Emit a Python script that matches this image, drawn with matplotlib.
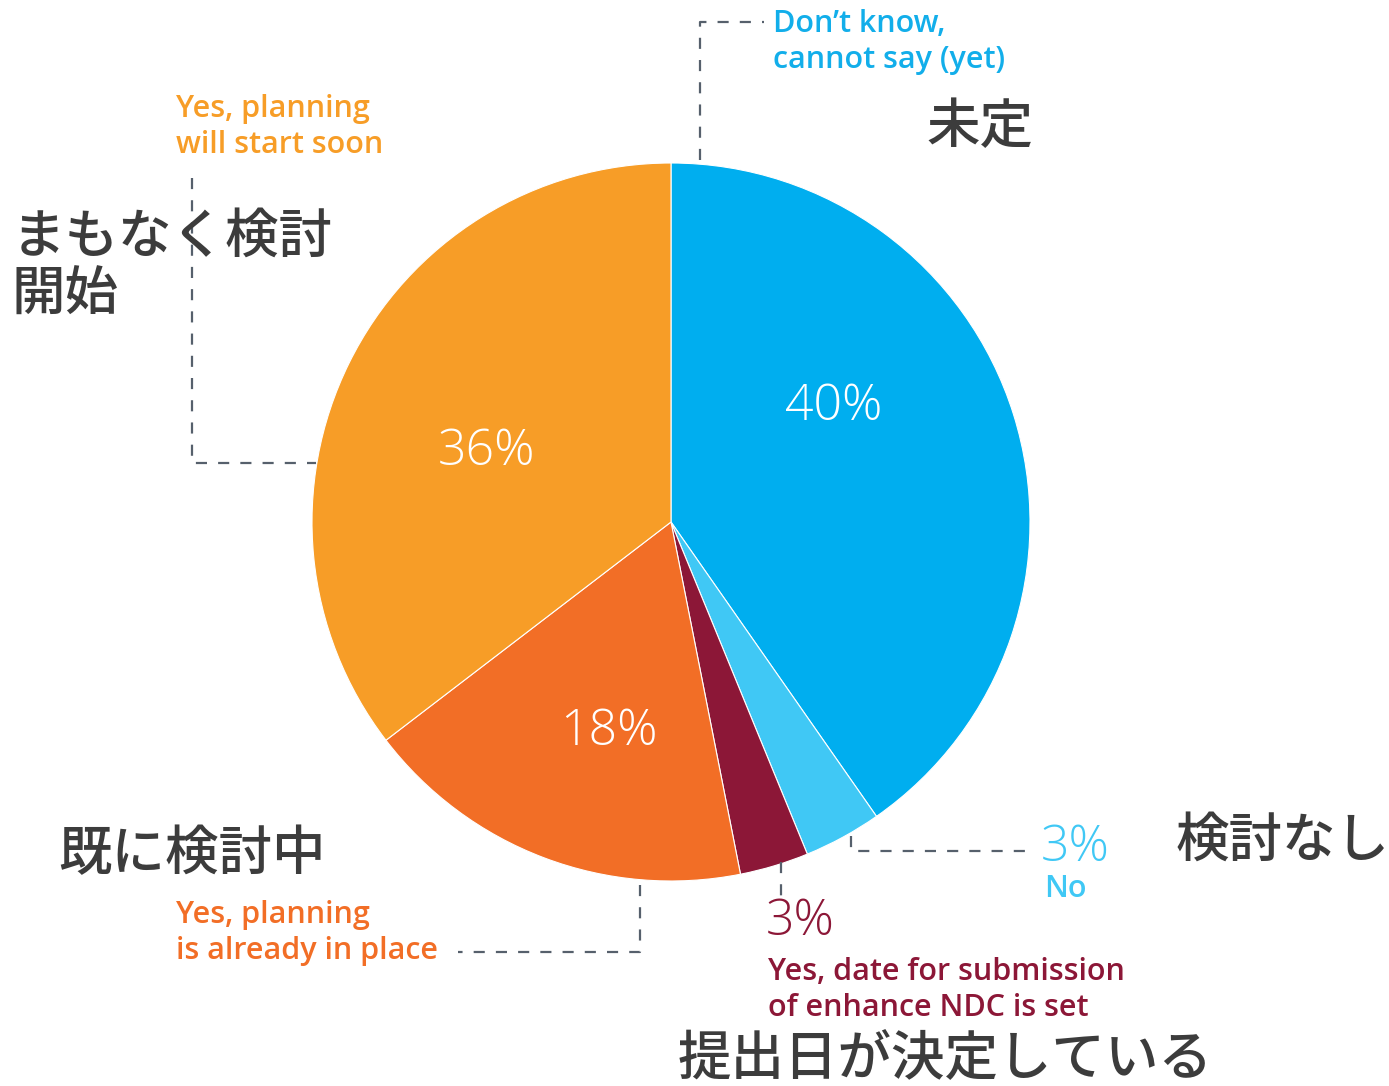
import matplotlib.pyplot as plt

# slices, clockwise from 12 o'clock
shares = [40.3, 3.5, 3.1, 17.7, 35.4]
colors = ['#00AEEF', '#40C8F5', '#8C1737', '#F26E26', '#F79D27']
inner_labels = ['40%', '', '', '18%', '36%']

en_labels = ["Don\u2019t know,\ncannot say (yet)", "No",
             "Yes, date for submission\nof enhance NDC is set",
             "Yes, planning\nis already in place",
             "Yes, planning\nwill start soon"]
ja_labels = ["未定", "検討なし", "提出日が決定している", "既に検討中", "まもなく検討\n開始"]
outer_pct = ['', '3%', '3%', '', '']

W, H = 1389, 1086
fig = plt.figure(figsize=(W / 100, H / 100), dpi=100)
ax = fig.add_axes([0, 0, 1, 1])

def Y(y):
    return H - y

cx, cy, r = 671, Y(522), 359
wedges, texts = ax.pie(shares, colors=colors, startangle=90, counterclock=False,
                       center=(cx, cy), radius=r, frame=True,
                       wedgeprops=dict(edgecolor='white', linewidth=0.8))
ax.set_xlim(0, W)
ax.set_ylim(0, H)
ax.set_aspect('equal')
ax.axis('off')

pct_font = dict(family=['Open Sans', 'DejaVu Sans'], weight='light', fontsize=36)
ax.text(834, Y(407), inner_labels[0], color='white', ha='center', va='center', **pct_font)
ax.text(609, Y(732), inner_labels[3], color='white', ha='center', va='center', **pct_font)
ax.text(486, Y(452), inner_labels[4], color='white', ha='center', va='center', **pct_font)

# dashed leader lines
dash = dict(color='#56606c', lw=1.6, ls=(0, (5, 5)))
ax.plot([700, 700, 764], [Y(160), Y(22), Y(22)], **dash)
ax.plot([192, 192, 316], [Y(178), Y(463), Y(463)], **dash)
ax.plot([640, 640, 458], [Y(885), Y(952), Y(952)], **dash)
ax.plot([851, 851, 1034], [Y(836), Y(851), Y(851)], **dash)
ax.plot([781, 781], [Y(862), Y(898)], **dash)

en_font = dict(family=['Open Sans', 'DejaVu Sans'], weight='semibold', fontsize=22,
               linespacing=1.28)
ax.text(773, Y(42), en_labels[0], color='#12AEEA', ha='left', va='center', **en_font)
ax.text(1044, Y(889), en_labels[1], color='#40C8F5', ha='left', va='center', **en_font)
ax.text(768, Y(990), en_labels[2], color='#8C1737', ha='left', va='center', **en_font)
ax.text(176, Y(933), en_labels[3], color='#F26E26', ha='left', va='center', **en_font)
ax.text(176, Y(127), en_labels[4], color='#F79D27', ha='left', va='center', **en_font)

ax.text(1041, Y(848), outer_pct[1], color='#40C8F5', ha='left', va='center', **pct_font)
ax.text(766, Y(922), outer_pct[2], color='#8C1737', ha='left', va='center', **pct_font)

ja_font = dict(family=['Noto Sans CJK JP', 'DejaVu Sans'], weight='medium', fontsize=38.5,
               color='#3c3c3c', linespacing=1.1)
ax.text(926, Y(128), ja_labels[0], ha='left', va='center', **ja_font)
ax.text(1176, Y(842), ja_labels[1], ha='left', va='center', **ja_font)
ax.text(678, Y(1060), ja_labels[2], ha='left', va='center', **ja_font)
ax.text(58, Y(855), ja_labels[3], ha='left', va='center', **ja_font)
ax.text(12, Y(267), ja_labels[4], ha='left', va='center', **ja_font)

fig.savefig('out.png', dpi=100, facecolor='white')
